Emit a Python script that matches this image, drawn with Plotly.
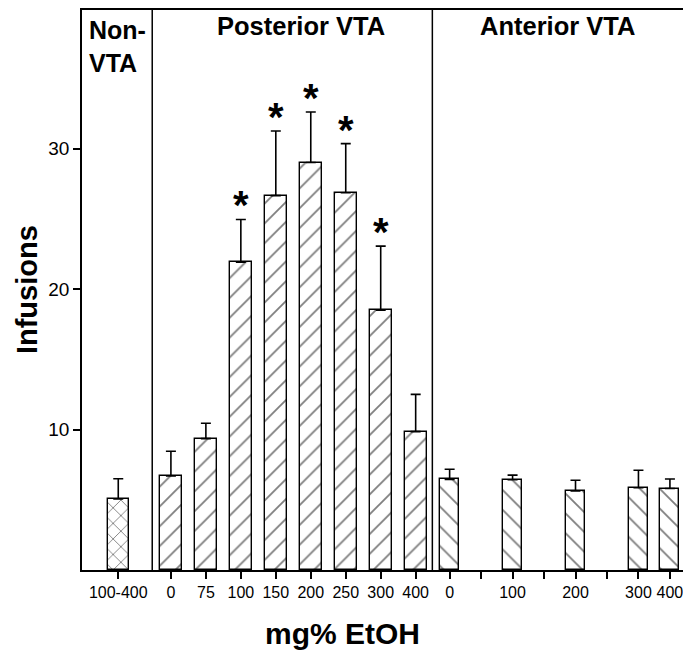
import plotly.graph_objects as go

# ---- data ----
nonvta_labels = ["100-400"]
nonvta_vals = [5.05]
nonvta_err = [1.45]

post_labels = ["0", "75", "100", "150", "200", "250", "300", "400"]
post_vals = [6.7, 9.35, 21.9, 26.65, 29.0, 26.85, 18.5, 9.85]
post_err = [1.75, 1.1, 3.05, 4.6, 3.6, 3.5, 4.55, 2.65]
post_sig = [False, False, True, True, True, True, True, False]

ant_labels = ["0", "100", "200", "300", "400"]
ant_slots = [0, 2, 4, 6, 7]          # slot index along the anterior axis
ant_vals = [6.45, 6.42, 5.62, 5.85, 5.8]
ant_err = [0.72, 0.33, 0.77, 1.25, 0.68]
ant_minor_slots = [1, 3, 5]

# ---- layout geometry (pixel-like x units) ----
X_MAX = 604.6
PLOT_H = 560.0
NONVTA_X = 36.3
POST_X0, POST_STEP = 89.0, 35.0
ANT_X0, ANT_STEP = 368.0, 31.5
SEP_X = [70.3, 350.7]

nonvta_x = [NONVTA_X]
post_x = [POST_X0 + i * POST_STEP for i in range(len(post_vals))]
ant_x = [ANT_X0 + s * ANT_STEP for s in ant_slots]
minor_x = [ANT_X0 + s * ANT_STEP for s in ant_minor_slots]

FONT = "Liberation Sans, Arial, sans-serif"

def err(arr):
    return dict(type="data", symmetric=False, array=arr, arrayminus=[0] * len(arr),
                color="black", thickness=1.6, width=5)

fig = go.Figure()
fig.add_trace(go.Bar(
    x=nonvta_x, y=nonvta_vals, width=20.7, error_y=err(nonvta_err),
    marker=dict(color="white", line=dict(color="black", width=1.4),
                pattern=dict(shape="x", size=11, solidity=0.16, fgcolor="black", bgcolor="white")),
    showlegend=False))
fig.add_trace(go.Bar(
    x=post_x, y=post_vals, width=21.7, error_y=err(post_err),
    marker=dict(color="white", line=dict(color="black", width=1.4),
                pattern=dict(shape="/", size=14, solidity=0.13, fgcolor="black", bgcolor="white")),
    showlegend=False))
fig.add_trace(go.Bar(
    x=ant_x, y=ant_vals, width=19.0, error_y=err(ant_err),
    marker=dict(color="white", line=dict(color="black", width=1.4),
                pattern=dict(shape="\\", size=14, solidity=0.13, fgcolor="black", bgcolor="white")),
    showlegend=False))

annotations = []
for x, v, e, s in zip(post_x, post_vals, post_err, post_sig):
    if s:
        annotations.append(dict(x=x, y=v + e, xref="x", yref="y", text="<b>*</b>",
                                showarrow=False, yanchor="bottom", yshift=-10,
                                font=dict(family=FONT, size=40, color="black")))

annotations += [
    dict(x=5 / X_MAX, y=1, xref="paper", yref="paper", xanchor="left", yanchor="top",
         yshift=-4, text="<b>Non-<br>VTA</b>", align="left", showarrow=False,
         font=dict(family=FONT, size=25, color="black")),
    dict(x=(300.8 - 82) / X_MAX, y=1, xref="paper", yref="paper", xanchor="center",
         yanchor="top", yshift=0, text="<b>Posterior VTA</b>", showarrow=False,
         font=dict(family=FONT, size=25.5, color="black")),
    dict(x=(558 - 82) / X_MAX, y=1, xref="paper", yref="paper", xanchor="center",
         yanchor="top", yshift=0, text="<b>Anterior VTA</b>", showarrow=False,
         font=dict(family=FONT, size=25.5, color="black")),
    # axis titles
    dict(x=-55 / X_MAX, y=0.5, xref="paper", yref="paper", xanchor="center", yanchor="middle",
         textangle=-90, text="<b>Infusions</b>", showarrow=False, borderpad=0,
         font=dict(family=FONT, size=29, color="black")),
    dict(x=(343 - 82) / X_MAX, y=-63 / PLOT_H, xref="paper", yref="paper", xanchor="center",
         yanchor="middle", text="<b>mg% EtOH</b>", showarrow=False,
         font=dict(family=FONT, size=30, color="black")),
]

shapes = [dict(type="line", x0=sx, x1=sx, y0=0, y1=1, xref="x", yref="paper",
               line=dict(color="black", width=1.5)) for sx in SEP_X]

tickvals = nonvta_x + post_x + ant_x + minor_x
ticktext = nonvta_labels + post_labels + ant_labels + [""] * len(minor_x)

# The page body adds an 8px margin, so the figure is sized/offset to compensate.
fig.update_layout(
    width=683, height=648,
    margin=dict(l=74, r=5, t=2, b=86, autoexpand=False),
    paper_bgcolor="white", plot_bgcolor="white",
    bargap=0,
    annotations=annotations, shapes=shapes,
    font=dict(family=FONT, color="black"),
    xaxis=dict(range=[0, X_MAX], tickmode="array", tickvals=tickvals, ticktext=ticktext,
               ticks="outside", ticklen=7, tickwidth=1.5, tickcolor="black",
               showline=True, linecolor="black", linewidth=1.5, mirror=True,
               showgrid=False, zeroline=False, automargin=False,
               tickfont=dict(family=FONT, size=16, color="black")),
    yaxis=dict(range=[0, 39.86], tickmode="array", tickvals=[10, 20, 30],
               ticks="outside", ticklen=7, tickwidth=1.5, tickcolor="black",
               showline=True, linecolor="black", linewidth=1.5, mirror=True,
               showgrid=False, zeroline=False, automargin=False,
               tickfont=dict(family=FONT, size=19, color="black")),
)

fig.write_html("out.html")
